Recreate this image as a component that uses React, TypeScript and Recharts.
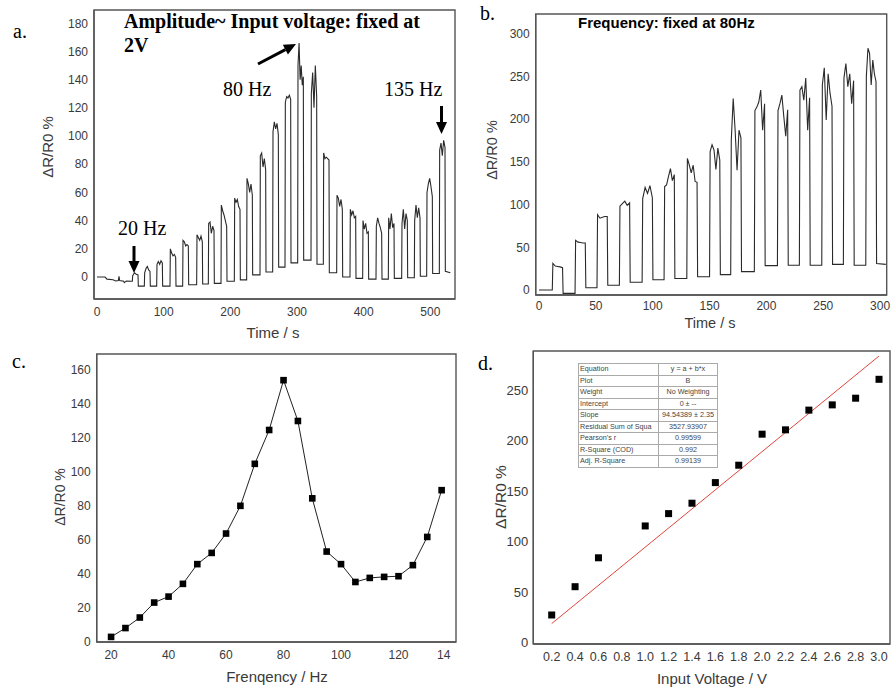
import React from 'react';
import { LineChart, Line, XAxis, YAxis, ReferenceArea, ComposedChart, Scatter } from 'recharts';

// panel a: frequency sweep, amplitude fixed at 2 V
const A_LEAD: [number, number][] = [
  [0, 0], [12, 0], [15, -1.5], [24, -2], [28, -2.8], [32, -2.5], [33, 0.5], [34, -2.5],
  [40, -3], [41, -4], [44, -2.8], [52, -3],
];
const A_RISE = [53, 71, 89.5, 109.5, 128.5, 149.5, 167, 186, 206, 224.5, 244.5, 263.5, 282, 301, 321, 339.5, 359.5, 379.5, 398.5, 418.5, 437, 457, 476, 494.5, 513.5];
const A_TOP = [
  [1, 3, 2, 1.5],
  [3, 6, 7.5, 5, 4],
  [9, 11, 9, 11.5, 10],
  [20, 17, 15, 16, 14],
  [26, 25, 22, 23, 22],
  [30, 28, 26, 29, 25],
  [38, 39, 31, 36, 33],
  [51, 47, 44, 40, 36],
  [56, 53, 55, 50, 48],
  [70, 66, 60, 66, 58],
  [86, 88, 78, 84, 76],
  [103, 110, 105, 109, 101],
  [124, 128, 127, 129, 126],
  [150, 166, 140, 150, 136, 142],
  [130, 145, 120, 150, 128],
  [88, 84, 85, 84, 83],
  [58, 56, 50, 55, 48],
  [48, 44, 47, 42, 43],
  [40, 34, 38, 31, 32],
  [36, 42, 38, 35, 31],
  [42, 34, 45, 35, 38],
  [38, 48, 34, 45, 40],
  [40, 51, 42, 49, 42],
  [60, 66, 70, 64, 57],
  [90, 95, 86, 97, 92],
];
const A_BASE = [-6.5, -6.5, -6.5, -6.5, -5.5, -5, -4.5, -3, -2, 1.5, 3.5, 7, 10, 12, 9, 3, 0, -1, -1.5, -1.5, -1, -0.5, 0.5, 2.5, 4];
const A_ON = 9;
const A_END: [number, number] = [530, 3];

// panel b: amplitude sweep, frequency fixed at 80 Hz
const B_LEAD: [number, number][] = [[0, 0], [11.5, 0]];
const B_RISE = [11.7, 31.7, 51, 70.7, 90.7, 110, 130, 150, 168.6, 189.4, 209.7, 229, 248.7, 267.7, 287.4];
const B_TOP = [
  [31, 28, 27.5, 27, 26],
  [58, 56, 55.5, 55, 55],
  [88, 84, 85, 86, 86],
  [98, 101, 104, 99, 102],
  [107, 120, 113, 122, 108],
  [121, 123, 133, 142, 128, 135],
  [154, 146, 137, 146, 127, 126],
  [162, 170, 164, 141, 166, 152],
  [175, 224, 187, 140, 187, 178],
  [210, 214, 220, 234, 187, 218],
  [210, 218, 228, 203, 180, 211],
  [234, 238, 222, 248, 187, 225],
  [240, 260, 199, 253, 230, 215],
  [248, 265, 238, 253, 218, 245],
  [250, 283, 277, 240, 269, 253, 244],
];
const B_BASE = [-4, 2.5, 5.5, 9, 12, 13.5, 15.5, 18, 21.5, 28.5, 29, 29, 30, 29, 31];
const B_ON = 9.5;
const B_END: [number, number] = [305, 30];

// panel c: peak response vs frequency
const C_FREQ = [20, 25, 30, 35, 40, 45, 50, 55, 60, 65, 70, 75, 80, 85, 90, 95, 100, 105, 110, 115, 120, 125, 130, 135];
const C_DR = [3, 8.2, 14.4, 23.2, 26.7, 34.2, 45.8, 52.4, 63.8, 80.1, 104.8, 124.7, 154, 130, 84.5, 53.2, 45.8, 35.3, 37.7, 38.3, 38.7, 45.2, 61.8, 89.3];

// panel d: peak response vs input voltage, with linear fit
const D_VOLT = [0.2, 0.4, 0.6, 1.0, 1.2, 1.4, 1.6, 1.8, 2.0, 2.2, 2.4, 2.6, 2.8, 3.0];
const D_DR = [27.4, 55.4, 84, 115.5, 127.7, 138, 158.4, 175.6, 206.3, 210.6, 230.1, 235.3, 241.9, 260.6];
const FIT_VOLT = [0.2, 3.0];
const FIT_DR = [18.9, 283.6];
const D_XTICKS = [0.2, 0.4, 0.6, 0.8, 1.0, 1.2, 1.4, 1.6, 1.8, 2.0, 2.2, 2.4, 2.6, 2.8, 3.0];

const FIT_TABLE: [string, string][] = [
  ['Equation', 'y = a + b*x'],
  ['Plot', 'B'],
  ['Weight', 'No Weighting'],
  ['Intercept', '0 ± --'],
  ['Slope', '94.54389 ± 2.35'],
  ['Residual Sum of Squa', '3527.93907'],
  ["Pearson's r", '0.99599'],
  ['R-Square (COD)', '0.992'],
  ['Adj. R-Square', '0.99139'],
];

const SANS = '"Liberation Sans", Arial, sans-serif';
const SERIF = '"Liberation Serif", "Times New Roman", serif';
const FRAME = '#555';
const TICK = { fill: '#3a3a3a', fontSize: 12, fontFamily: SANS };

function buildTrace(lead: [number, number][], rise: number[], tops: number[][], base: number[], on: number, end: [number, number]) {
  const pts = lead.map(([t, v]) => ({ t, v }));
  let prev = lead[lead.length - 1][1];
  rise.forEach((r, k) => {
    const top = tops[k];
    pts.push({ t: r, v: prev });
    const step = (on - 1) / (top.length - 1);
    top.forEach((v, i) => pts.push({ t: r + 0.5 + i * step, v }));
    pts.push({ t: r + on, v: base[k] });
    prev = base[k];
  });
  pts.push({ t: end[0], v: end[1] });
  return pts;
}

const traceA = buildTrace(A_LEAD, A_RISE, A_TOP, A_BASE, A_ON, A_END);
const traceB = buildTrace(B_LEAD, B_RISE, B_TOP, B_BASE, B_ON, B_END);
const dataC = C_FREQ.map((f, i) => ({ f, v: C_DR[i] }));
const dataD = D_VOLT.map((x, i) => ({ x, y: D_DR[i] }));
const fitD = FIT_VOLT.map((x, i) => ({ x, y: FIT_DR[i] }));

const Square = (size: number) => (p: any) => (
  <rect key={`sq-${p.index}-${p.cx}`} x={p.cx - size / 2} y={p.cy - size / 2} width={size} height={size} fill="#000" />
);

const CTick = (props: any) => {
  const { x, y, payload } = props;
  const last = payload.value === 140;
  return (
    <text x={last ? x - 11 : x} y={y} dy="0.71em" textAnchor={last ? 'start' : 'middle'} fill={TICK.fill} fontSize={12} fontFamily={SANS}>
      {last ? '14' : payload.value}
    </text>
  );
};

const Arrow = ({ x1, y1, x2, y2 }: { x1: number; y1: number; x2: number; y2: number }) => {
  const a = Math.atan2(y2 - y1, x2 - x1);
  const len = 12;
  const w = 5.5;
  const bx = x2 - len * Math.cos(a);
  const by = y2 - len * Math.sin(a);
  const px = -Math.sin(a) * w;
  const py = Math.cos(a) * w;
  return (
    <g>
      <line x1={x1} y1={y1} x2={bx} y2={by} stroke="#000" strokeWidth={3} />
      <polygon points={`${x2},${y2} ${bx + px},${by + py} ${bx - px},${by - py}`} fill="#000" />
    </g>
  );
};

const YTitle = ({ x, y, size }: { x: number; y: number; size: number }) => (
  <text x={x} y={y} transform={`rotate(-90 ${x} ${y})`} textAnchor="middle" dominantBaseline="central" fontSize={size} fontFamily={SANS} fill="#3a3a3a">
    ΔR/R0 %
  </text>
);

export default function App() {
  return (
    <div style={{ position: 'fixed', left: 0, top: 0, width: 891, height: 688, background: '#fff', overflow: 'hidden' }}>
      <div style={{ position: 'absolute', left: 0, top: 0 }}>
        <LineChart width={457} height={340} data={traceA} margin={{ top: 10, right: 2, bottom: 0, left: 0 }}>
          <XAxis dataKey="t" type="number" domain={[-4.5, 537]} ticks={[0, 100, 200, 300, 400, 500]} allowDataOverflow tickLine={false} height={41} axisLine={{ stroke: FRAME, strokeWidth: 1.4 }} tick={TICK} />
          <YAxis type="number" domain={[-15.6, 189.4]} ticks={[0, 20, 40, 60, 80, 100, 120, 140, 160, 180]} allowDataOverflow tickLine={false} tickSize={4} width={94} axisLine={{ stroke: FRAME, strokeWidth: 1.4 }} tick={TICK} />
          <ReferenceArea x1={-4.5} x2={537} y1={-15.6} y2={189.4} fill="none" stroke={FRAME} strokeWidth={1.4} ifOverflow="visible" />
          <Line dataKey="v" type="linear" stroke="#2a2a2a" strokeWidth={1.1} dot={false} isAnimationActive={false} />
        </LineChart>
      </div>

      <div style={{ position: 'absolute', left: 460, top: 0 }}>
        <LineChart width={431} height={340} data={traceB} margin={{ top: 14, right: 4.3, bottom: 0, left: 0 }}>
          <XAxis dataKey="t" type="number" domain={[-2.9, 305.8]} ticks={[0, 50, 100, 150, 200, 250, 300]} allowDataOverflow tickLine={false} tickSize={4} height={45} axisLine={{ stroke: FRAME, strokeWidth: 1.4 }} tick={TICK} />
          <YAxis type="number" domain={[-5.9, 323]} ticks={[0, 50, 100, 150, 200, 250, 300]} allowDataOverflow tickLine={false} tickSize={4} width={75.7} axisLine={{ stroke: FRAME, strokeWidth: 1.4 }} tick={TICK} />
          <ReferenceArea x1={-2.9} x2={305.8} y1={-5.9} y2={323} fill="none" stroke={FRAME} strokeWidth={1.4} ifOverflow="visible" />
          <Line dataKey="v" type="linear" stroke="#2a2a2a" strokeWidth={1.1} dot={false} isAnimationActive={false} />
        </LineChart>
      </div>

      <div style={{ position: 'absolute', left: 0, top: 340 }}>
        <LineChart width={460} height={348} data={dataC} margin={{ top: 14, right: 4, bottom: 0, left: 0 }}>
          <XAxis dataKey="f" type="number" domain={[15, 140]} ticks={[20, 40, 60, 80, 100, 120, 140]} allowDataOverflow tickLine={false} height={46} axisLine={{ stroke: FRAME, strokeWidth: 1.4 }} tick={<CTick />} />
          <YAxis type="number" domain={[0, 169.4]} ticks={[0, 20, 40, 60, 80, 100, 120, 140, 160]} allowDataOverflow tickLine={false} tickSize={4} width={96.7} axisLine={{ stroke: FRAME, strokeWidth: 1.4 }} tick={TICK} />
          <ReferenceArea x1={15} x2={140} y1={0} y2={169.4} fill="none" stroke={FRAME} strokeWidth={1.4} ifOverflow="visible" />
          <Line dataKey="v" type="linear" stroke="#222" strokeWidth={1} dot={Square(6.6)} isAnimationActive={false} />
        </LineChart>
      </div>

      <div style={{ position: 'absolute', left: 460, top: 340 }}>
        <ComposedChart width={431} height={348} margin={{ top: 11, right: 1, bottom: 0, left: 0 }}>
          <XAxis dataKey="x" type="number" domain={[0.0426, 3.094]} ticks={D_XTICKS} allowDataOverflow tickLine={false} height={44} tickFormatter={(v: number) => v.toFixed(1)} axisLine={{ stroke: FRAME, strokeWidth: 1.4 }} tick={{ ...TICK, fontSize: 12.5 }} />
          <YAxis dataKey="y" type="number" domain={[-1.3, 288.6]} ticks={[0, 50, 100, 150, 200, 250]} allowDataOverflow tickLine={false} tickSize={3} width={73.3} axisLine={{ stroke: FRAME, strokeWidth: 1.4 }} tick={{ ...TICK, fontSize: 13 }} />
          <ReferenceArea x1={0.0426} x2={3.094} y1={-1.3} y2={288.6} fill="none" stroke={FRAME} strokeWidth={1.4} ifOverflow="visible" />
          <Line data={fitD} dataKey="y" type="linear" stroke="#e0453c" strokeWidth={1} dot={false} isAnimationActive={false} />
          <Scatter data={dataD} dataKey="y" shape={Square(7)} isAnimationActive={false} />
        </ComposedChart>
      </div>

      <table style={{ position: 'absolute', left: 578, top: 363, width: 140, height: 104, borderCollapse: 'collapse', border: '1.5px solid #333', fontFamily: SANS, fontSize: 7.2, color: '#444', background: '#fff', tableLayout: 'fixed' }}>
        <tbody>
          {FIT_TABLE.map(([k, v]) => (
            <tr key={k} style={{ height: 11.5 }}>
              <td style={{ width: 77, border: '1px solid #aaa', padding: '0 1px', whiteSpace: 'nowrap', overflow: 'hidden', lineHeight: '10px' }}>{k}</td>
              <td style={{ border: '1px solid #aaa', padding: 0, textAlign: 'center', whiteSpace: 'nowrap', overflow: 'hidden', lineHeight: '10px' }}>{v}</td>
            </tr>
          ))}
        </tbody>
      </table>

      <svg width={891} height={688} style={{ position: 'absolute', left: 0, top: 0, pointerEvents: 'none' }}>
        <g fontFamily={SERIF} fill="#000">
          <text x={13} y={38} fontSize={20}>a.</text>
          <text x={480} y={20} fontSize={20}>b.</text>
          <text x={12} y={368} fontSize={20}>c.</text>
          <text x={478} y={370} fontSize={20}>d.</text>
          <text x={124} y={28} fontSize={20} fontWeight="bold">Amplitude~ Input voltage: fixed at</text>
          <text x={124} y={52} fontSize={20} fontWeight="bold">2V</text>
          <text x={223} y={96} fontSize={20}>80 Hz</text>
          <text x={384} y={96} fontSize={20}>135 Hz</text>
          <text x={118} y={235} fontSize={20}>20 Hz</text>
        </g>
        <text x={578} y={28} fontFamily={SANS} fontSize={15} fontWeight="bold" fill="#000">Frequency: fixed at 80Hz</text>
        <Arrow x1={258} y1={64} x2={296} y2={44} />
        <Arrow x1={441.5} y1={106} x2={441.5} y2={134} />
        <Arrow x1={134} y1={246} x2={134} y2={273} />
        <g fontFamily={SANS} fill="#3a3a3a">
          <text x={273} y={338} fontSize={15} textAnchor="middle">Time / s</text>
          <text x={710} y={328} fontSize={14.5} textAnchor="middle">Time / s</text>
          <text x={277} y={682} fontSize={15} textAnchor="middle">Frenqency / Hz</text>
          <text x={712} y={684} fontSize={15} textAnchor="middle">Input Voltage / V</text>
        </g>
        <YTitle x={47} y={147} size={15} />
        <YTitle x={492} y={150} size={14.5} />
        <YTitle x={60} y={497} size={14} />
        <YTitle x={500} y={497} size={15.5} />
      </svg>
    </div>
  );
}
